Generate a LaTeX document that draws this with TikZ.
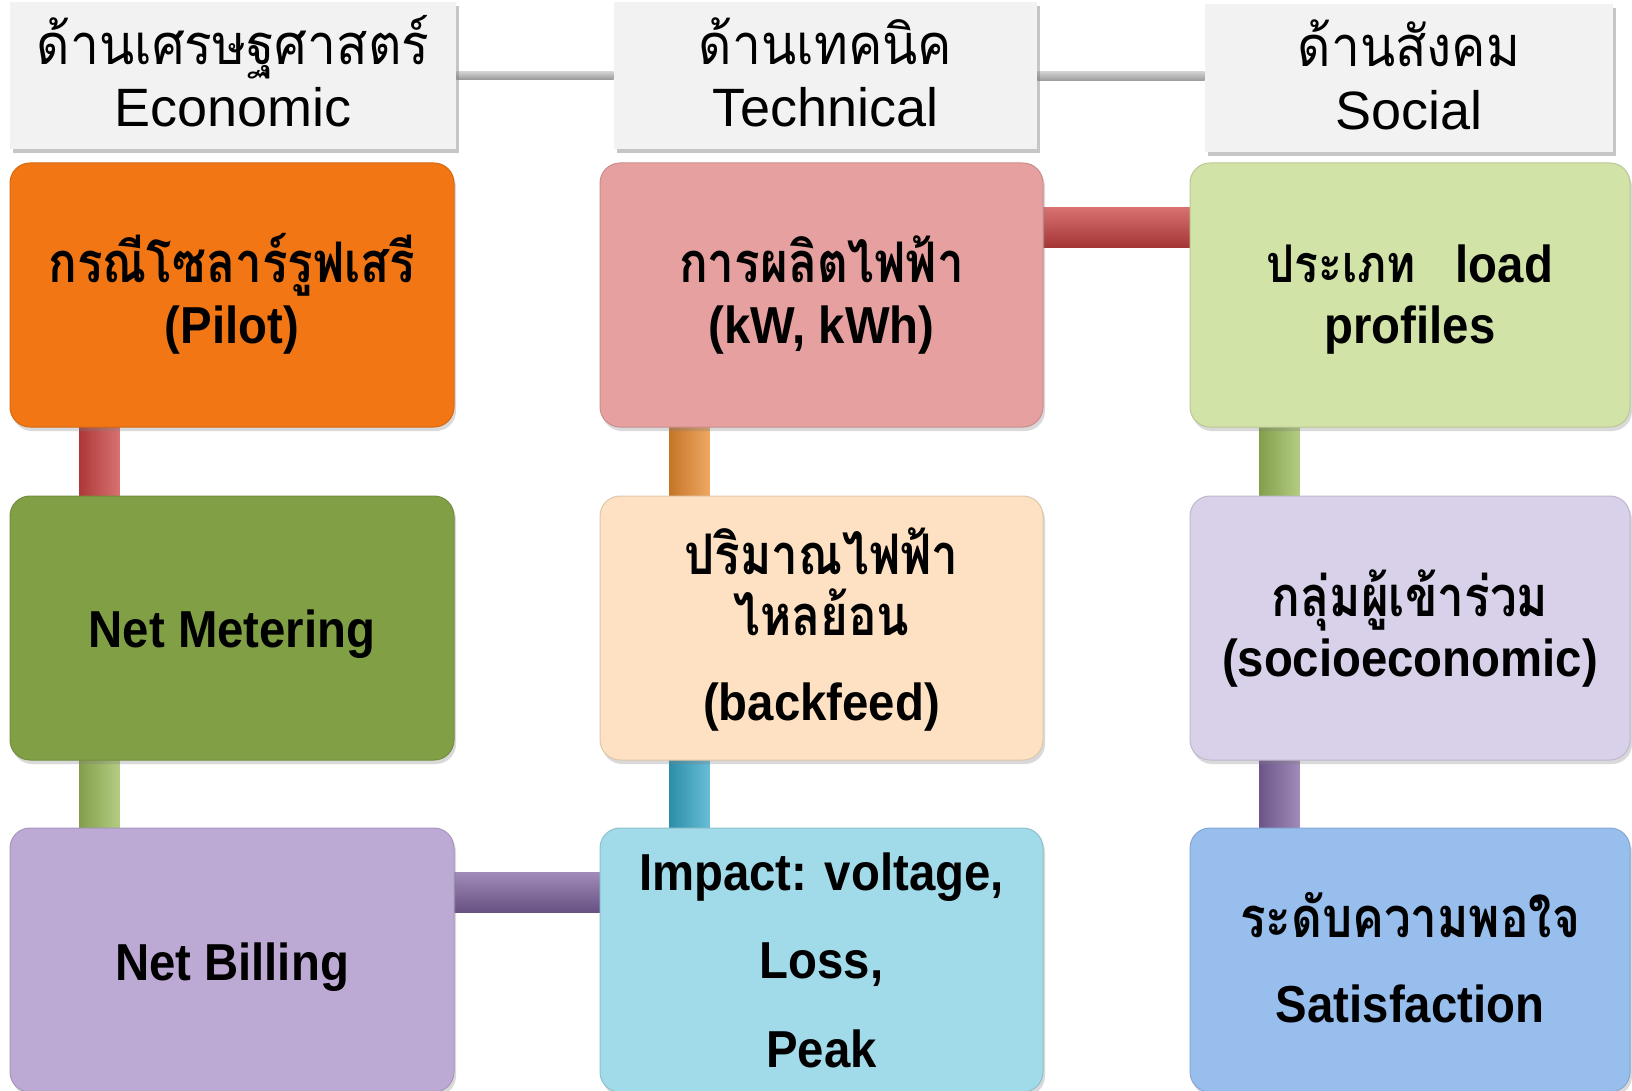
\documentclass[tikz,border=0pt]{standalone}
\usepackage{fontspec}
\setmainfont{Liberation Sans}
\newfontfamily\latb{Liberation Sans}[FakeStretch=0.91]
\newfontfamily\latr{Liberation Sans}[FakeStretch=1.0]
\newfontfamily\thaif[Script=Thai,FakeStretch=0.92]{Loma}
\newfontfamily\thaib[Script=Thai,FakeStretch=0.85]{Loma}
\usetikzlibrary{shadows,backgrounds,calc}
\definecolor{hdrgray}{HTML}{F2F2F2}
\definecolor{cOrange}{HTML}{F27714}
\definecolor{cPink}{HTML}{E5A09F}
\definecolor{cLgreen}{HTML}{D2E3A7}
\definecolor{cOlive}{HTML}{81A045}
\definecolor{cPeach}{HTML}{FDE1C2}
\definecolor{cLav}{HTML}{D9D1E9}
\definecolor{cPurp}{HTML}{BCAAD5}
\definecolor{cLblue}{HTML}{A1DAE9}
\definecolor{cBlue}{HTML}{98BEEE}
\definecolor{kRed}{HTML}{CC4242}
\definecolor{kGreen}{HTML}{9BBB59}
\definecolor{kOrange}{HTML}{E98A2E}
\definecolor{kCyan}{HTML}{35A7C7}
\definecolor{kPurple}{HTML}{8064A2}
\definecolor{kGray}{HTML}{BFBFBF}
\tikzset{
  hdr/.style={rectangle, fill=hdrgray, inner sep=0pt,
    drop shadow={shadow xshift=1.5pt, shadow yshift=-2pt, opacity=0.45}},
  cbox/.style={rectangle, rounded corners=10pt, inner sep=0pt,
    fill=#1, draw=#1!88!black, line width=0.5pt,
    minimum height=132pt,
    drop shadow={shadow xshift=1pt, shadow yshift=-2pt, opacity=0.3}},
  hth/.style={anchor=base, inner sep=0pt, font=\fontsize{28}{30}\selectfont\thaif},
  hla/.style={anchor=base, inner sep=0pt, font=\fontsize{27}{30}\selectfont\latr},
  tb/.style={anchor=base, inner sep=0pt, font=\fontsize{28}{30}\selectfont\thaib\bfseries},
  lb/.style={anchor=base, inner sep=0pt, font=\fontsize{26}{30}\selectfont\latb\bfseries},
  vcon/.style={left color=#1!85!black, middle color=#1, right color=#1!75!white},
  hcon/.style={top color=#1!75!white, middle color=#1, bottom color=#1!80!black},
}
\begin{document}
\begin{tikzpicture}[x=0.5pt,y=-0.5pt]
\useasboundingbox (0,0) rectangle (1632,1091);
% header boxes
\node[hdr, minimum width=223pt, minimum height=73.5pt] (h1) at (233,75.5) {};
\node[hdr, minimum width=211.5pt, minimum height=73.5pt] (h2) at (825.5,75.5) {};
\node[hdr, minimum width=204pt, minimum height=74pt] (h3) at (1409,78) {};
\node[hth] (h1a) at (233,64.5) {ด้านเศรษฐศาสตร์};
\node[hla] (h1b) at (233,127) {Economic};
\node[hth] (h2a) at (825.5,64.5) {ด้านเทคนิค};
\node[hla] (h2b) at (825.5,127) {Technical};
\node[hth] (h3a) at (1409,67) {ด้านสังคม};
\node[hla] (h3b) at (1409,129.5) {Social};
% content boxes
\node[cbox=cOrange, minimum width=222pt] (b11) at (232,295) {};
\node[cbox=cPink, minimum width=221.5pt] (b12) at (821.5,295) {};
\node[cbox=cLgreen, minimum width=220pt] (b13) at (1410,295) {};
\node[cbox=cOlive, minimum width=222pt] (b21) at (232,628) {};
\node[cbox=cPeach, minimum width=221.5pt] (b22) at (821.5,628) {};
\node[cbox=cLav, minimum width=220pt] (b23) at (1410,628) {};
\node[cbox=cPurp, minimum width=222pt] (b31) at (232,960) {};
\node[cbox=cLblue, minimum width=221.5pt] (b32) at (821.5,960) {};
\node[cbox=cBlue, minimum width=220pt] (b33) at (1410,960) {};
% texts
\node[tb] (t11a) at (232,283) {กรณีโซลาร์รูฟเสรี};
\node[lb] (t11b) at (232,343.5) {(Pilot)};
\node[tb] (t12a) at (821.5,283) {การผลิตไฟฟ้า};
\node[lb] (t12b) at (821.5,343.5) {(kW, kWh)};
\node[lb] (t13a) at (1410,283) {{\thaib ประเภท}\hspace{20pt}load};
\node[lb] (t13b) at (1410,343.5) {profiles};
\node[lb] (t21a) at (232,647) {Net Metering};
\node[tb] (t22a) at (821.5,574.5) {ปริมาณไฟฟ้า};
\node[tb] (t22b) at (821.5,635) {ไหลย้อน};
\node[lb] (t22c) at (821.5,720) {(backfeed)};
\node[tb] (t23a) at (1410,616) {กลุ่มผู้เข้าร่วม};
\node[lb] (t23b) at (1410,676.5) {(socioeconomic)};
\node[lb] (t31a) at (232,980.5) {Net Billing};
\node[lb] (t32a) at (821.5,890) {Impact: voltage,};
\node[lb] (t32b) at (821.5,978) {Loss,};
\node[lb] (t32c) at (821.5,1067) {Peak};
\node[tb] (t33a) at (1410,937) {ระดับความพอใจ};
\node[lb] (t33b) at (1410,1022) {Satisfaction};
% connectors
\begin{scope}[on background layer]
\shade[top color=kGray!70!white, bottom color=kGray!80!black] ($(h1.east)+(0,-4)$) rectangle ($(h2.west)+(0,4)$);
\shade[top color=kGray!70!white, bottom color=kGray!80!black] ($(h2.east)+(0,-4)$) rectangle ($(h3.west)+(0,3)$);
\shade[vcon=kRed] ($(b11.south west)+(70,-2)$) rectangle ($(b21.north west)+(110,2)$);
\shade[vcon=kGreen] ($(b21.south west)+(70,-2)$) rectangle ($(b31.north west)+(110,2)$);
\shade[vcon=kOrange] ($(b12.south west)+(70,-2)$) rectangle ($(b22.north west)+(110,2)$);
\shade[vcon=kCyan] ($(b22.south west)+(70,-2)$) rectangle ($(b32.north west)+(110,2)$);
\shade[vcon=kGreen] ($(b13.south west)+(70,-2)$) rectangle ($(b23.north west)+(110,2)$);
\shade[vcon=kPurple] ($(b23.south west)+(70,-2)$) rectangle ($(b33.north west)+(110,2)$);
\shade[hcon=kRed] ($(b12.north east)+(-2,45)$) rectangle ($(b13.north west)+(2,85)$);
\shade[hcon=kPurple] ($(b31.north east)+(-2,45)$) rectangle ($(b32.north west)+(2,85)$);
\end{scope}
\end{tikzpicture}
\end{document}
